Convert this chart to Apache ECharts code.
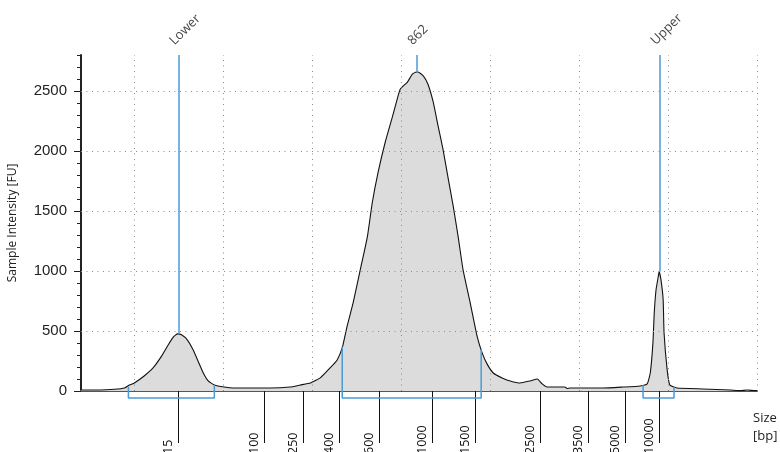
<!DOCTYPE html>
<html>
<head>
<meta charset="utf-8">
<script src="https://cdn.jsdelivr.net/npm/echarts@6/dist/echarts.min.js"></script>
<style>html,body{margin:0;padding:0;background:#fff;}#c{width:780px;height:452px;}</style>
</head>
<body>
<div id="c"></div>
<script>
// Electropherogram trace (migration time units vs fluorescence units)
const traceTime = [14,16.2,17.75,18.9,19.45,20,21.1,22.1,23.0,23.8,24.4,24.85,25.3,25.95,26.6,27.2,27.75,28.3,29.0,30.1,31.1,33.0,35.3,37.5,38.65,39.8,40.9,42.0,42.8,43.4,43.9,44.6,45.4,46.2,46.75,47.4,48.2,49.0,49.55,49.9,50.7,51.25,51.7,51.9,52.5,53.0,53.6,54.15,54.7,55.3,55.85,56.4,56.95,57.75,58.55,59.1,59.65,60.35,61.35,62.25,63.35,64.5,65.3,65.85,66.4,68.4,68.65,69.0,72.7,74.9,76.85,77.65,78.0,78.3,78.45,78.65,78.9,79.0,79.2,79.45,79.55,79.9,80.2,81.0,83.9,87.0,88.1,88.9,89.8,90];
const traceFU = [8,8,14,25,50,67,125,192,284,384,451,476,468,426,343,242,150,84,50,33,25,25,25,33,50,67,109,192,259,368,535,736,1011,1287,1571,1822,2073,2282,2432,2516,2574,2641,2658,2658,2624,2558,2407,2207,2014,1764,1538,1287,1011,736,451,318,226,150,109,84,67,84,100,59,33,33,21,25,25,33,42,59,150,401,652,844,953,995,928,761,485,176,50,25,17,8,3,8,3,3];

// Ladder size labels and their positions on the time axis
const ladderSizes = ['15','100','250','400','600','1000','1500','2500','3500','5000','10000'];
const ladderTimes = [24.94,34.61,38.99,43.03,47.53,53.48,58.31,65.62,71.01,75.17,78.99];

// Peak markers
const markerNames = ['Lower','862','Upper'];
const markerTimes = [24.94,51.71,79.04];
const markerFU = [476,2658,995];

// Peak integration brackets
const bracketStart = [19.33,43.37,77.19];
const bracketEnd = [28.99,58.99,80.67];
const bracketStartFU = [36,368,50];
const bracketEndFU = [50,343,33];
const bracketDepth = -58;

// Axis ticks / grid
const yTicks = [0,500,1000,1500,2000,2500];
const yGrid = [500,1000,1500,2000,2500];
const xGrid = [20,30,40,50,60,70,80,90];
const xMin = 14, xMax = 90, yMin = 0, yMax = 2800;

const BLUE = '#4a9bd6';
const dotted = {color:'#8a8a8a', width:1, type:[1,4.5]};

const chart = echarts.init(document.getElementById('c'), null, {renderer:'canvas'});

const gridLines = [];
xGrid.forEach(t => gridLines.push({xAxis:t, lineStyle:dotted}));
yGrid.forEach(v => gridLines.push({yAxis:v, lineStyle:dotted}));
markerTimes.forEach((t,i) => gridLines.push([
  {coord:[t, yMax], lineStyle:{color:BLUE, width:1.5, type:'solid'}},
  {coord:[t, markerFU[i]]}
]));

const series = [
  {
    type:'line', xAxisIndex:0, yAxisIndex:0,
    data: traceTime.map((t,i)=>[t, traceFU[i]]),
    showSymbol:false, symbol:'none', smooth:0.15,
    lineStyle:{color:'#111', width:1.1},
    areaStyle:{color:'#dcdcdc', opacity:1},
    z:2,
    markLine:{silent:true, symbol:'none', animation:false, label:{show:false}, data:gridLines, z:3}
  },
  {
    type:'scatter', xAxisIndex:0, yAxisIndex:0, symbolSize:0,
    data: markerTimes.map((t,i)=>({value:[t, yMax], name:markerNames[i]})),
    label:{show:true, position:'inside', formatter:p=>p.name, rotate:45, align:'left', verticalAlign:'middle',
      offset:[4,-13], fontFamily:'Open Sans', fontSize:13, color:'#111'},
    z:5, silent:true
  }
];
bracketStart.forEach((s,i)=>{
  series.push({
    type:'line', xAxisIndex:0, yAxisIndex:0, clip:false, symbol:'none', showSymbol:false,
    data:[[s, bracketStartFU[i]],[s, bracketDepth],[bracketEnd[i], bracketDepth],[bracketEnd[i], bracketEndFU[i]]],
    lineStyle:{color:BLUE, width:1.5}, z:4, silent:true
  });
});

function sizeLabel(v){
  let best=0, d=1e9;
  ladderTimes.forEach((t,i)=>{ if(Math.abs(t-v)<d){d=Math.abs(t-v);best=i;} });
  return ladderSizes[best];
}

chart.setOption({
  animation:false,
  backgroundColor:'#fff',
  grid:{left:81, right:23, top:55, bottom:61, containLabel:false, outerBoundsMode:'none'},
  xAxis:[
    {type:'value', min:xMin, max:xMax, position:'bottom',
      axisLine:{show:true, onZero:false, lineStyle:{color:'#555', width:2}},
      axisTick:{show:false}, axisLabel:{show:false}, splitLine:{show:false}},
    {type:'value', min:xMin, max:xMax, position:'bottom', offset:15,
      axisLine:{show:false},
      axisTick:{show:true, customValues:ladderTimes, length:52, lineStyle:{color:'#111', width:1}},
      axisLabel:{show:true, customValues:ladderTimes, formatter:v=>sizeLabel(v), rotate:90,
        align:'left', verticalAlign:'bottom', padding:[0,0,3,0], margin:48,
        fontFamily:'Open Sans', fontSize:12.5, color:'#111'},
      splitLine:{show:false},
      name:'Size\n[bp]', nameLocation:'end', nameGap:-4,
      nameTextStyle:{align:'left', verticalAlign:'top', fontFamily:'Open Sans', fontSize:13, lineHeight:18, color:'#222', padding:[18,0,0,0]}}
  ],
  yAxis:[
    {type:'value', min:yMin, max:yMax, interval:100, position:'left',
      axisLine:{show:true, onZero:false, lineStyle:{color:'#222', width:2}},
      axisTick:{show:true, length:4, lineStyle:{color:'#222', width:1}},
      axisLabel:{show:false}, splitLine:{show:false}},
    {type:'value', min:yMin, max:yMax, position:'left',
      axisLine:{show:false},
      axisTick:{show:true, customValues:yTicks, length:7, lineStyle:{color:'#222', width:1}},
      axisLabel:{show:true, customValues:yTicks, formatter:v=>String(v), margin:14, fontFamily:'Liberation Sans', fontSize:15, color:'#222'},
      splitLine:{show:false},
      name:'Sample Intensity [FU]', nameLocation:'middle', nameGap:62,
      nameTextStyle:{fontFamily:'Open Sans', fontSize:12, color:'#222'}}
  ],
  series:series
});
</script>
</body>
</html>
